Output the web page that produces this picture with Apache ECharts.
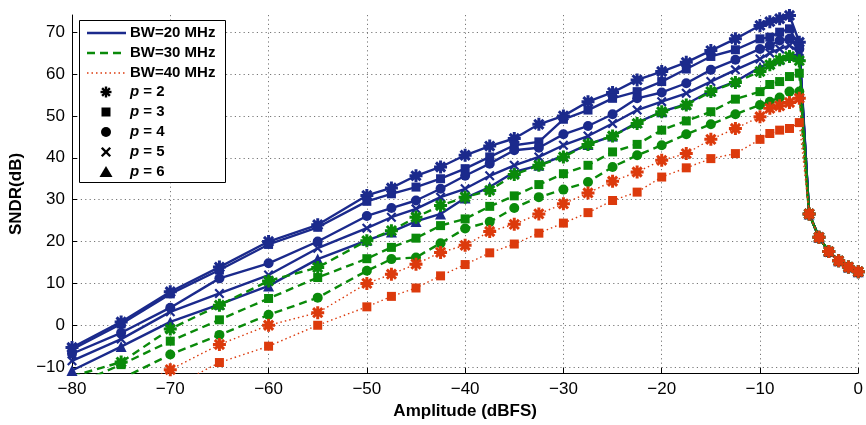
<!DOCTYPE html>
<html>
<head>
<meta charset="utf-8">
<script src="https://cdn.jsdelivr.net/npm/echarts@6/dist/echarts.min.js"></script>
<style>html,body{margin:0;padding:0;background:#fff;}#c{width:866px;height:425px;}</style>
</head>
<body>
<div id="c"></div>
<script>
// ---------------- data ----------------
const amplitude = [-80, -75, -70, -65, -60, -55, -50, -47.5, -45, -42.5, -40, -37.5, -35, -32.5, -30,
  -27.5, -25, -22.5, -20, -17.5, -15, -12.5, -10, -9, -8, -7, -6, -5, -4, -3, -2, -1, 0];
// common overload tail (-5 ... 0 dBFS)
const tail = [26.6, 21.0, 17.6, 15.4, 13.9, 12.8];

// BW = 20 MHz
const bw20_p2 = [-5.3, 0.8, 8.0, 13.9, 20.0, 24.0, 31.0, 32.8, 35.7, 37.8, 40.6, 42.8, 44.6, 48.0, 50.0, 53.4, 55.6, 58.6, 60.6, 62.8, 65.6, 68.4, 71.6, 72.5, 73.2, 74.0, 67.6];
const bw20_p3 = [-5.8, 0.3, 7.5, 13.2, 19.3, 23.4, 29.6, 31.4, 33.0, 35.0, 37.4, 40.2, 43.0, 43.8, 49.2, 51.4, 54.2, 55.8, 58.2, 61.2, 64.2, 65.8, 68.4, 68.8, 70.0, 70.8, 66.5];
const bw20_p4 = [-6.8, -1.8, 4.2, 11.2, 14.8, 20.0, 26.1, 28.0, 29.8, 32.6, 35.7, 38.6, 41.8, 42.4, 45.6, 47.6, 50.4, 54.2, 55.6, 57.8, 61.0, 63.4, 66.0, 66.8, 68.0, 68.4, 66.0];
const bw20_p5 = [-8.5, -3.3, 3.2, 7.6, 12.0, 18.4, 23.2, 25.8, 27.8, 30.6, 32.6, 35.7, 38.2, 40.2, 43.0, 45.2, 48.2, 51.4, 53.4, 55.4, 58.2, 61.0, 63.6, 65.0, 66.0, 66.8, 65.4];
const bw20_p6 = [-10.8, -5.1, 0.8, 5.0, 9.4, 15.8, 20.3, 22.3, 24.8, 26.6, 30.4, 33.0, 36.6, 38.2, 40.5, 43.2, 45.2, 48.4, 51.0, 52.8, 56.0, 58.2, 61.6, 62.6, 63.6, 64.4, 64.6];

// BW = 30 MHz
const bw30_p2 = [-12.2, -8.8, -0.9, 4.8, 10.6, 13.8, 20.2, 22.6, 25.8, 28.6, 30.6, 32.2, 36.0, 38.2, 40.2, 43.2, 45.2, 48.2, 51.0, 52.6, 55.8, 58.0, 60.6, 62.2, 63.4, 64.2, 63.2];
const bw30_p3 = [-14.5, -9.4, -3.8, 1.3, 6.4, 11.4, 15.9, 18.6, 20.8, 23.8, 25.4, 28.4, 30.9, 33.6, 36.2, 38.2, 41.4, 43.2, 46.6, 48.8, 51.0, 54.0, 55.8, 57.5, 58.2, 59.4, 60.2];
const bw30_p4 = [-18.0, -12.8, -7.0, -2.3, 2.5, 6.6, 13.0, 15.8, 16.2, 19.6, 23.1, 24.7, 28.0, 30.6, 32.4, 34.2, 37.8, 40.6, 43.0, 45.6, 48.0, 50.4, 52.6, 53.4, 54.4, 55.8, 55.8];

// BW = 40 MHz
const bw40_p2 = [-22.0, -16.0, -10.6, -4.6, 0.0, 3.0, 10.0, 12.2, 14.6, 17.4, 19.1, 22.4, 24.1, 26.6, 29.0, 31.6, 34.4, 36.6, 39.4, 41.0, 44.4, 47.0, 49.8, 51.8, 52.4, 53.2, 54.2];
const bw40_p3 = [-26.0, -20.0, -15.0, -8.9, -5.0, 0.0, 4.4, 6.9, 8.9, 11.8, 14.5, 17.3, 19.4, 22.0, 24.4, 26.9, 29.8, 31.8, 35.4, 37.6, 39.8, 41.0, 44.4, 45.8, 46.6, 47.0, 48.4];

const xTicks = [-80, -70, -60, -50, -40, -30, -20, -10, 0];
const yTicks = [-10, 0, 10, 20, 30, 40, 50, 60, 70];
const bwLabels = ['BW=20 MHz', 'BW=30 MHz', 'BW=40 MHz'];
const pLabels = [2, 3, 4, 5, 6];

// ---------------- styling ----------------
const FONT = '"Liberation Sans", Arial, Helvetica, sans-serif';
const BLUE = '#1B2A8C', GREEN = '#0A8A0A', RED = '#DC3A0C';
const GRIDSTYLE = {color: '#777777', type: [1.2, 3.2], width: 1};

function barsPath(angles, L, W) {
  let d = '';
  const c = 10;
  for (const a of angles) {
    const r = a * Math.PI / 180, ca = Math.cos(r), sa = Math.sin(r);
    const pts = [[-L/2, -W/2], [L/2, -W/2], [L/2, W/2], [-L/2, W/2]]
      .map(([x, y]) => [c + x * ca - y * sa, c + x * sa + y * ca]);
    d += 'M' + pts.map(p => p[0].toFixed(3) + ' ' + p[1].toFixed(3)).join(' L') + ' Z ';
  }
  return 'path://' + d;
}
const ASTER = barsPath([0, 45, 90, 135], 10, 2.3);
const CROSS = barsPath([45, 135], 12, 2.2);

const markers = {
  2: {symbol: ASTER, size: 13},
  3: {symbol: 'rect', size: 9},
  4: {symbol: 'circle', size: 10},
  5: {symbol: CROSS, size: 10},
  6: {symbol: 'triangle', size: 11}
};
const groups = [
  {color: BLUE, type: 'solid', width: 2.4, sets: [[2, bw20_p2], [3, bw20_p3], [4, bw20_p4], [5, bw20_p5], [6, bw20_p6]]},
  {color: GREEN, type: [8, 5], width: 2.4, sets: [[2, bw30_p2], [3, bw30_p3], [4, bw30_p4]]},
  {color: RED, type: [1.5, 3], width: 1.4, sets: [[2, bw40_p2], [3, bw40_p3]]}
];

const series = [];
groups.forEach(g => {
  g.sets.forEach(([p, vals]) => {
    const full = vals.concat(tail);
    series.push({
      type: 'line',
      data: amplitude.map((x, i) => [x, full[i]]),
      symbol: markers[p].symbol,
      symbolSize: markers[p].size,
      itemStyle: {color: g.color, borderWidth: 0},
      lineStyle: {color: g.color, width: g.width, type: g.type},
      emphasis: {disabled: true},
      z: 2
    });
  });
});

// ---------------- legend (graphic) ----------------
const G = [];
G.push({type: 'rect', shape: {x: 79.5, y: 20.5, width: 146, height: 162}, style: {fill: '#fff', stroke: '#000', lineWidth: 1}, z: 100});
const lineRows = [33, 53, 73];
groups.forEach((g, i) => {
  G.push({type: 'line', shape: {x1: 87, y1: lineRows[i], x2: 126, y2: lineRows[i]},
    style: {stroke: g.color, lineWidth: g.width, lineDash: g.type === 'solid' ? null : g.type}, z: 101});
  G.push({type: 'text', x: 130, y: lineRows[i], style: {text: bwLabels[i], font: 'bold 15px ' + FONT, fill: '#000', verticalAlign: 'middle'}, z: 101});
});
const mRows = [92, 112, 132, 152, 172];
const mx = 106;
function segs(cx, cy, angles, L, w) {
  angles.forEach(a => {
    const r = a * Math.PI / 180, dx = Math.cos(r) * L / 2, dy = Math.sin(r) * L / 2;
    G.push({type: 'line', shape: {x1: cx - dx, y1: cy - dy, x2: cx + dx, y2: cy + dy}, style: {stroke: '#000', lineWidth: w}, z: 101});
  });
}
pLabels.forEach((p, i) => {
  const y = mRows[i];
  if (p === 2) segs(mx, y, [0, 45, 90, 135], 11, 2.4);
  if (p === 3) G.push({type: 'rect', shape: {x: mx - 4.5, y: y - 4.5, width: 9, height: 9}, style: {fill: '#000'}, z: 101});
  if (p === 4) G.push({type: 'circle', shape: {cx: mx, cy: y, r: 5}, style: {fill: '#000'}, z: 101});
  if (p === 5) segs(mx, y, [45, 135], 12, 2.4);
  if (p === 6) G.push({type: 'polygon', shape: {points: [[mx, y - 6], [mx + 6.5, y + 5], [mx - 6.5, y + 5]]}, style: {fill: '#000'}, z: 101});
  G.push({type: 'text', x: 130, y: y, style: {
    text: '{i|p}{n| = ' + p + '}',
    rich: {i: {font: 'italic bold 15px ' + FONT, fill: '#000'}, n: {font: 'bold 15px ' + FONT, fill: '#000'}},
    verticalAlign: 'middle'}, z: 101});
});

const fmt = v => (v < 0 ? '\u2212' + Math.abs(v) : String(v));

const option = {
  animation: false,
  backgroundColor: '#fff',
  grid: {left: 72, right: 7, top: 15, bottom: 52, containLabel: false},
  xAxis: {
    type: 'value', min: -80, max: 0, interval: 10,
    axisLine: {show: true, onZero: false, lineStyle: {color: '#000', width: 1}},
    axisTick: {show: true, inside: true, length: 5, lineStyle: {color: '#000'}},
    axisLabel: {color: '#000', fontSize: 17, fontFamily: FONT, margin: 8, formatter: fmt},
    splitLine: {show: true, lineStyle: GRIDSTYLE},
    name: 'Amplitude (dBFS)', nameLocation: 'middle', nameGap: 28,
    nameTextStyle: {color: '#000', fontSize: 17, fontWeight: 'bold', fontFamily: FONT}
  },
  yAxis: {
    type: 'value', min: -11.4, max: 74.1, interval: 10,
    axisLine: {show: true, onZero: false, lineStyle: {color: '#000', width: 1}},
    axisTick: {show: true, inside: true, length: 5, lineStyle: {color: '#000'}, customValues: yTicks},
    axisLabel: {color: '#000', fontSize: 17, fontFamily: FONT, margin: 7, customValues: yTicks,
      formatter: v => (Math.abs(v % 10) < 1e-6 ? fmt(v) : '')},
    splitLine: {show: true, lineStyle: GRIDSTYLE},
    name: 'SNDR(dB)', nameLocation: 'middle', nameGap: 46,
    nameTextStyle: {color: '#000', fontSize: 17, fontWeight: 'bold', fontFamily: FONT}
  },
  graphic: G,
  series: series
};
const chart = echarts.init(document.getElementById('c'), null, {renderer: 'canvas'});
chart.setOption(option);
</script>
</body>
</html>
